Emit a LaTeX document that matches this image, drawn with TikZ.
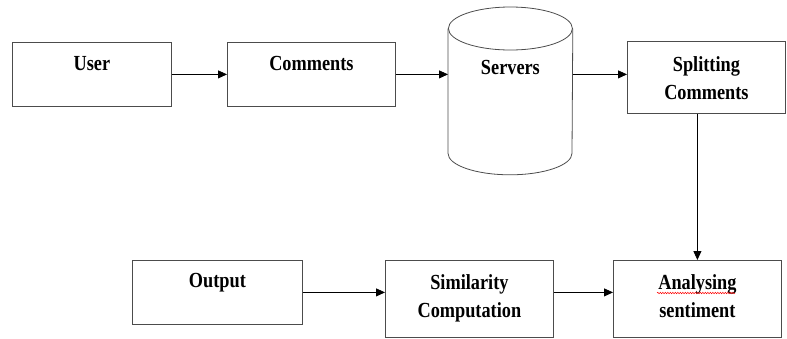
\documentclass[tikz,border=0pt]{standalone}
\usepackage{fontspec}
\newfontfamily\boxfont[FakeStretch=0.85]{Liberation Serif}
\usetikzlibrary{arrows.meta,decorations.pathmorphing}

\begin{document}
\begin{tikzpicture}[x=1pt, y=-1pt,
  boxtext/.style={font=\boxfont\bfseries\fontsize{21.5}{28}\selectfont},
  box/.style={rectangle, draw=black!70, line width=0.8pt, inner ysep=0pt, align=center, anchor=north west, boxtext},
  drum/.style={draw=black!70, line width=0.8pt},
  flow/.style={-{Triangle[length=9pt,width=8pt]}, line width=0.8pt}]
\useasboundingbox (0,0) rectangle (787,338);
% top row
\node (user) at (12,42) [box, minimum width=159pt, text height=28pt, text depth=36pt] {User};
\node (comments) at (227,42) [box, minimum width=168pt, text height=28pt, text depth=36pt] {Comments};
\node (servers) at (448,7) [box, draw=none, minimum width=124pt, text height=67pt, text depth=100pt] {Servers};
\draw [drum] ([yshift=-21.5pt]servers.north west) -- ([yshift=21.5pt]servers.south west)
  arc [start angle=180, end angle=360, x radius=62pt, y radius=21.5pt] -- ([yshift=-21.5pt]servers.north east);
\draw [drum] ([yshift=-21.5pt]servers.north) ellipse [x radius=62pt, y radius=21.5pt];
\node (splitting) at (627,41) [box, minimum width=158pt, text height=58pt, text depth=14pt] {Splitting\\Comments};
% bottom row
\node (output) at (132,260) [box, minimum width=170pt, text height=27pt, text depth=37pt] {Output};
\node (similarity) at (385,260) [box, minimum width=168pt, text height=57pt, text depth=20pt] {Similarity\\Computation};
\node (analysing) at (613,260) [box, minimum width=168pt, text height=57pt, text depth=20pt] {Analysing\\sentiment};
\draw [red, line width=0.5pt, decorate, decoration={snake, amplitude=0.7pt, segment length=2.5pt}] (657,293) -- (735,293);
% arrows
\draw [flow] (user.east) -- (comments.west);
\draw [flow] (comments.east) -- (comments.east -| servers.west);
\draw [flow] (servers.east |- comments.east) -- (splitting.west |- comments.east);
\draw [flow] (splitting.south -| analysing.north) -- (analysing.north);
\draw [flow] (output.east) -- (output.east -| similarity.west);
\draw [flow] (similarity.east |- output.east) -- (analysing.west |- output.east);
\end{tikzpicture}
\end{document}
